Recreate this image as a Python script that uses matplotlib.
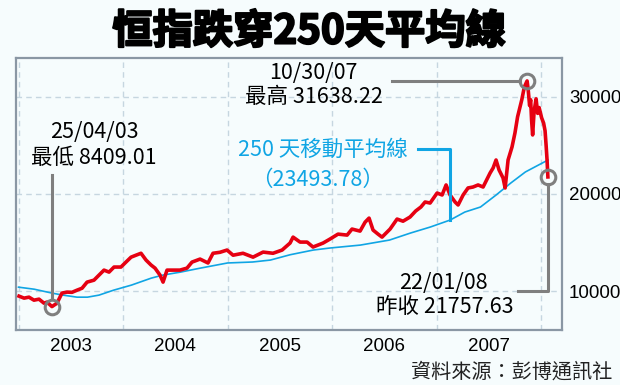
import matplotlib.pyplot as plt
import matplotlib.patheffects as pe
import numpy as np

plt.rcParams['font.family'] = ['Noto Sans CJK TC', 'DejaVu Sans']

# Hang Seng Index (decimal year, index points)
hsi_t = [2003.005, 2003.053, 2003.10, 2003.148, 2003.196, 2003.244, 2003.273, 2003.32,
         2003.368, 2003.416, 2003.464, 2003.512, 2003.56, 2003.608, 2003.656, 2003.722,
         2003.77, 2003.818, 2003.866, 2003.914, 2003.98, 2004.029, 2004.077, 2004.124,
         2004.172, 2004.22, 2004.268, 2004.306, 2004.354, 2004.383, 2004.421, 2004.478,
         2004.545, 2004.612, 2004.66, 2004.737, 2004.813, 2004.861, 2004.928, 2004.995,
         2005.053, 2005.148, 2005.244, 2005.34, 2005.435, 2005.522, 2005.598, 2005.627,
         2005.694, 2005.761, 2005.818, 2005.914, 2005.98, 2006.057, 2006.144, 2006.191,
         2006.268, 2006.316, 2006.354, 2006.392, 2006.44, 2006.478, 2006.555, 2006.622,
         2006.679, 2006.746, 2006.80, 2006.85, 2006.89, 2006.938, 2007.005, 2007.053,
         2007.091, 2007.129, 2007.177, 2007.206, 2007.254, 2007.301, 2007.349, 2007.397,
         2007.445, 2007.512, 2007.541, 2007.569, 2007.598, 2007.636, 2007.656, 2007.684,
         2007.722, 2007.75, 2007.775, 2007.815, 2007.84, 2007.866, 2007.876, 2007.89,
         2007.90, 2007.909, 2007.919, 2007.933, 2007.952, 2007.967, 2007.981, 2008.005,
         2008.024, 2008.038, 2008.048, 2008.057, 2008.065]
hsi_v = [9485, 9280, 9380, 9070, 9175, 8760, 8870, 8409.01,
         8760, 9800, 9900, 9880, 10100, 10300, 10930, 11130,
         11650, 12165, 11960, 12480, 12480, 13000, 13500, 13700,
         13900, 13200, 12690, 12370, 11650, 10930, 12165, 12165,
         12165, 12370, 12990, 13300, 12900, 13900, 14000, 14230,
         13700, 13900, 13500, 14020, 13900, 14230, 14950, 15560,
         15050, 15050, 14540, 14950, 15360, 15870, 15770, 16390,
         16180, 17100, 17520, 16290, 15870, 15560, 16390, 17420,
         17200, 17630, 18250, 18660, 19175, 19070, 20100, 19900,
         20930, 19900, 19175, 18870, 19900, 20620, 20720, 20930,
         20720, 22160, 22680, 23500, 22470, 21650, 20620, 23500,
         24850, 26290, 27940, 29690, 31030, 31638.22, 30800, 29100,
         29700, 27600, 26080, 28500, 29800, 28300, 28900, 27840,
         27300, 26500, 25000, 23500, 21757.63]

# 250-day moving average
ma_t = [2003.0, 2003.15, 2003.32, 2003.42, 2003.56, 2003.66, 2003.77, 2003.91,
        2004.08, 2004.27, 2004.38, 2004.55, 2004.74, 2005.0, 2005.24, 2005.41,
        2005.60, 2005.82, 2005.98, 2006.27, 2006.55, 2006.75, 2006.94, 2007.13,
        2007.27, 2007.42, 2007.57, 2007.71, 2007.85, 2008.065]
ma_v = [10410, 10200, 9800, 9600, 9380, 9380, 9590, 10100,
        10620, 11340, 11650, 11960, 12370, 12900, 13000, 13200,
        13750, 14230, 14440, 14740, 15260, 15980, 16600, 17320,
        18140, 18660, 19900, 21130, 22270, 23493.78]

years = [2003, 2004, 2005, 2006, 2007]
y_ticks = [10000, 20000, 30000]

low_t, low_v = 2003.32, 8409.01
peak_t, peak_v = 2007.866, 31638.22
last_t, last_v = 2008.065, 21757.63
last_ma = 23493.78

W, H = 620, 385
BG = "#f6fcfd"
GRAY = "#7f7f7f"
BLUE = "#10a5e4"
RED = "#e60012"
NUM_FONT = ['Liberation Sans', 'DejaVu Sans']

fig = plt.figure(figsize=(6.2, 3.85), dpi=100, facecolor=BG)
ax = fig.add_axes([16 / W, 1 - 330 / H, (562 - 16) / W, (330 - 58) / H], facecolor=BG)

ax.plot(ma_t, ma_v, color=BLUE, lw=1.2, zorder=3)
ax.plot(hsi_t, hsi_v, color=RED, lw=2.6, zorder=4, solid_joinstyle='round')

ax.set_xlim(2002.976, 2008.2)
ax.set_ylim(6000, 34000)

ax.set_xticks(years + [2008])
ax.set_xticklabels([])
ax.set_xticks([y + 0.5 for y in years], minor=True)
ax.set_xticklabels([str(y) for y in years], minor=True, fontfamily=NUM_FONT, fontsize=13.5)
ax.yaxis.tick_right()
ax.set_yticks(y_ticks)
ax.set_yticklabels([str(v) for v in y_ticks], fontfamily=NUM_FONT, fontsize=13.5)
ax.tick_params(which='both', length=0)
ax.tick_params(axis='x', which='minor', pad=6)
ax.tick_params(axis='y', pad=5)
ax.grid(True, which='major', color='#c6d6e0', lw=1, ls=(0, (4, 3)))
for s in ax.spines.values():
    s.set_color('#8a97a4')
    s.set_linewidth(1.6)

# annotation lines and circles
r_y = 750    # circle radius in index points
r_x = 0.07   # circle radius in years
ring = dict(marker='o', ms=10.5, mfc='none', mec=GRAY, mew=2.2, ls='none', zorder=6)
ax.plot([low_t, low_t], [low_v + r_y, 21950], color=GRAY, lw=2.2, zorder=5)
ax.plot(low_t, low_v, **ring)
ax.plot([2006.574, peak_t - r_x], [peak_v, peak_v], color=GRAY, lw=2.2, zorder=5)
ax.plot(peak_t, peak_v, **ring)
ax.plot([2007.78, last_t, last_t], [10000, 10000, last_v - r_y], color=GRAY, lw=2.2, zorder=5)
ax.plot(last_t, last_v, **ring)

conn_t = 2007.129
ax.plot([2006.823, conn_t, conn_t], [24640, 24640, np.interp(conn_t, ma_t, ma_v)],
        color=BLUE, lw=2.2, zorder=5)

def label(x, y, s, **kw):
    fig.text(x / W, 1 - y / H, s, ha='center', va='center', **kw)

label(309, 32, "恒指跌穿250天平均線", fontsize=29, fontweight='heavy', color='black',
      path_effects=[pe.withStroke(linewidth=1.5, foreground='black')])

label(94, 132, "25/04/03", fontsize=15.5)
label(94, 158, f"最低 {low_v:.2f}", fontsize=15.5)
label(313, 73, "10/30/07", fontsize=15.5)
label(314, 97, f"最高 {peak_v:.2f}", fontsize=15.5)
label(323, 150, "250 天移動平均線", fontsize=15.5, color=BLUE)
label(318, 180, f"（{last_ma:.2f}）", fontsize=15.5, color=BLUE)
label(443, 283, "22/01/08", fontsize=15.5)
label(445, 307, f"昨收 {last_v:.2f}", fontsize=15.5)

fig.text(612 / W, 1 - 372 / H, "資料來源：彭博通訊社", ha='right', va='center',
         fontsize=14.5, color='#222222')

fig.savefig("out.png", dpi=100, facecolor=BG)
